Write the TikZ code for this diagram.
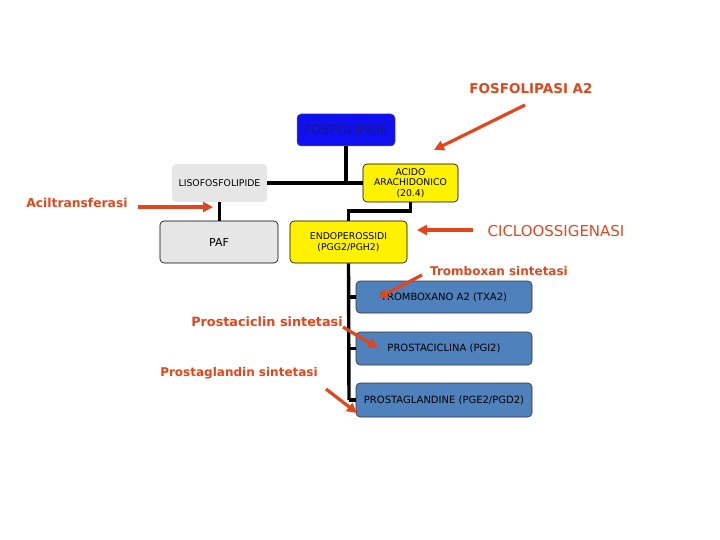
\documentclass[tikz,border=0pt]{standalone}
\usepackage{fontspec}
\setmainfont{DejaVu Sans}
\usetikzlibrary{arrows.meta}
\definecolor{lbl}{HTML}{E2461C}
\definecolor{boxblue}{HTML}{4F81BD}
\definecolor{pure}{HTML}{1010F0}
\definecolor{navy}{HTML}{1A1A70}
\definecolor{lgray}{HTML}{E6E6E6}
\tikzset{
  box/.style={rectangle, rounded corners=4pt, inner sep=1pt, align=center, font=\fontsize{9.3}{10.5}\selectfont},
  ybox/.style={box, fill=yellow, draw=black, line width=0.6pt},
  gbox/.style={box, fill=lgray},
  bbox/.style={box, fill=boxblue, draw=black!80, line width=0.6pt, minimum width=176pt, font=\fontsize{10}{12}\selectfont},
  link/.style={line width=3.4pt, black},
  red/.style={text=lbl, inner sep=0pt},
  rarrow/.style={lbl, line width=3.2pt, -{Triangle[length=10pt,width=10pt]}}
}
\begin{document}
\begin{tikzpicture}[x=1pt,y=-1pt]
\useasboundingbox (0,0) rectangle (720,540);
% boxes
\node[box, fill=pure, draw=black!60, line width=0.5pt, minimum width=98pt, minimum height=32pt, text=navy, font=\fontsize{13}{15}\selectfont] (fosfo) at (346,130) {FOSFOLIPIDE};
\node[ybox, minimum width=95pt, minimum height=38pt] (acido) at (410.5,183) {ACIDO\\ARACHIDONICO\\(20.4)};
\node[gbox, minimum width=95pt, minimum height=38pt] (liso) at (219.5,183) {LISOFOSFOLIPIDE};
\node[gbox, draw=black, line width=0.6pt, minimum width=118pt, minimum height=42pt, font=\fontsize{11}{13}\selectfont] (paf) at (219,242) {PAF};
\node[ybox, minimum width=117pt, minimum height=42pt] (endo) at (348.5,242) {ENDOPEROSSIDI\\(PGG2/PGH2)};
\node[bbox, minimum height=32pt] (txa) at (444,297) {TROMBOXANO A2 (TXA2)};
\node[bbox, minimum height=33pt] (pgi) at (444,348.5) {PROSTACICLINA (PGI2)};
\node[bbox, minimum height=34pt] (pge) at (444,400) {PROSTAGLANDINE (PGE2/PGD2)};
% connectors
\coordinate (j1) at (380,211);
\coordinate (jb) at (349,400);
\draw[link] (liso.east) -- (acido.west);
\draw[link] (fosfo.south) -- (fosfo.south |- liso.east);
\draw[link] (liso.south) -- (liso.south |- paf.north);
\draw[link] (acido.south) |- (j1) -| (endo.north);
\draw[link] (endo.south) -- (jb);
\draw[link] (jb |- txa.west) -- (txa.west);
\draw[link] (jb |- pgi.west) -- (pgi.west);
\draw[link] (jb) -- (pge.west);
% labels
\node[red, font=\bfseries\fontsize{13.5}{15}\selectfont] (fla2) at (531,89) {FOSFOLIPASI A2};
\node[red, font=\fontsize{15}{17}\selectfont] (cox) at (556,231) {CICLOOSSIGENASI};
\node[red, font=\bfseries\fontsize{12}{14}\selectfont] (txs) at (499,271) {Tromboxan sintetasi};
\node[red, font=\bfseries\fontsize{12.8}{14}\selectfont] (pgis) at (267,322) {Prostaciclin sintetasi};
\node[red, font=\bfseries\fontsize{12}{14}\selectfont] (pges) at (239,373) {Prostaglandin sintetasi};
\node[red, font=\bfseries\fontsize{12.3}{14}\selectfont] (acil) at (77,203) {Aciltransferasi};
% arrows
\coordinate (a1s) at (525,105); \coordinate (a1e) at (434,150);
\coordinate (a2s) at (473,230); \coordinate (a2e) at (417,230);
\coordinate (a3s) at (422,275); \coordinate (a3e) at (378,298);
\coordinate (a4s) at (343,327); \coordinate (a4e) at (378,348);
\coordinate (a5s) at (326,389); \coordinate (a5e) at (357,413);
\coordinate (a6s) at (138,207); \coordinate (a6e) at (213,207);
\draw[rarrow] (a1s) -- (a1e);
\draw[rarrow] (a2s) -- (a2e);
\draw[rarrow] (a3s) -- (a3e);
\draw[rarrow] (a4s) -- (a4e);
\draw[rarrow] (a5s) -- (a5e);
\draw[rarrow] (a6s) -- (a6e);
\end{tikzpicture}
\end{document}
